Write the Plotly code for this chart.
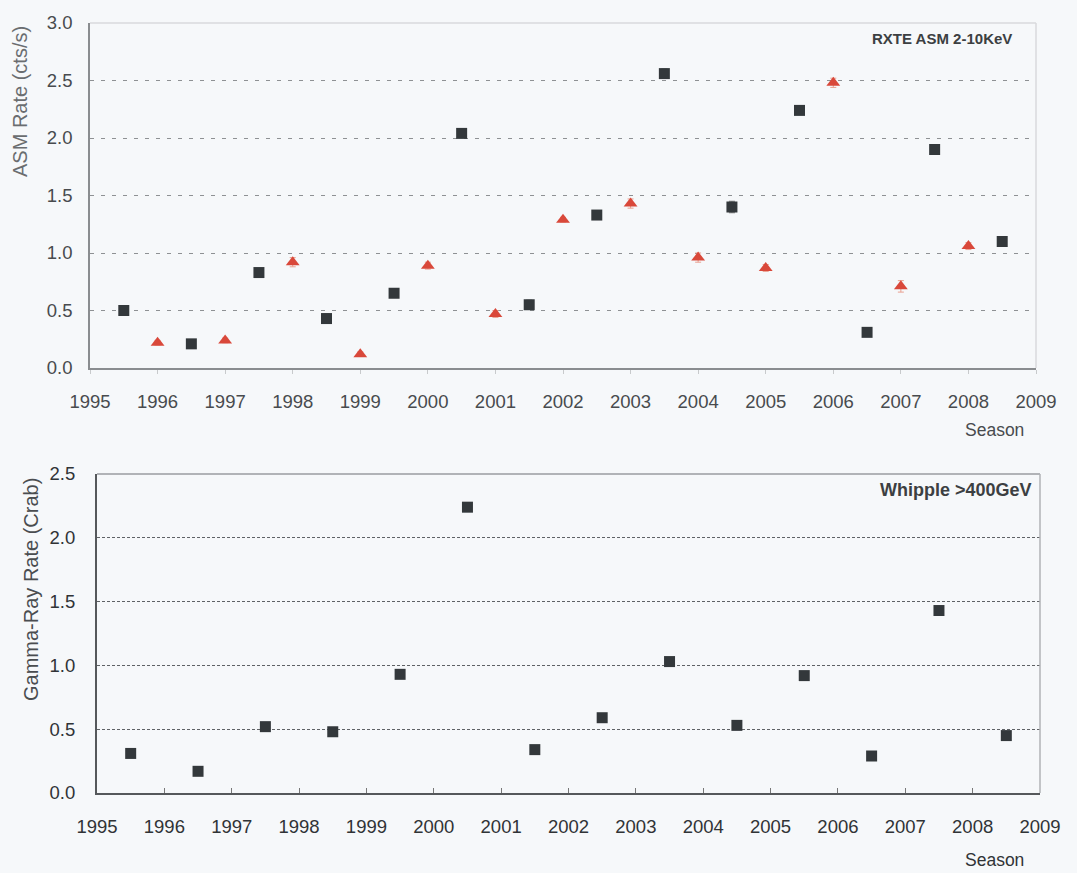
import plotly.graph_objects as go

# ---- data ----
asm_sq_season = [1995.5, 1996.5, 1997.5, 1998.5, 1999.5, 2000.5, 2001.5,
                 2002.5, 2003.5, 2004.5, 2005.5, 2006.5, 2007.5, 2008.5]
asm_sq_rate = [0.50, 0.21, 0.83, 0.43, 0.65, 2.04, 0.55,
               1.33, 2.56, 1.40, 2.24, 0.31, 1.90, 1.10]
asm_sq_err = [0.03, 0.02, 0.02, 0.04, 0.03, 0.02, 0.04,
              0.02, 0.04, 0.05, 0.03, 0.02, 0.02, 0.02]

asm_tri_season = [1996, 1997, 1998, 1999, 2000, 2001, 2002,
                  2003, 2004, 2005, 2006, 2007, 2008]
asm_tri_rate = [0.22, 0.24, 0.92, 0.12, 0.89, 0.47, 1.29,
                1.43, 0.96, 0.87, 2.48, 0.71, 1.06]
asm_tri_err = [0.02, 0.02, 0.04, 0.02, 0.03, 0.03, 0.02,
               0.04, 0.04, 0.03, 0.04, 0.05, 0.03]

whipple_season = [1995.5, 1996.5, 1997.5, 1998.5, 1999.5, 2000.5, 2001.5,
                  2002.5, 2003.5, 2004.5, 2005.5, 2006.5, 2007.5, 2008.5]
whipple_rate = [0.31, 0.17, 0.52, 0.48, 0.93, 2.24, 0.34,
                0.59, 1.03, 0.53, 0.92, 0.29, 1.43, 0.45]

year_ticks = list(range(1995, 2010))
asm_ticks = [0.0, 0.5, 1.0, 1.5, 2.0, 2.5, 3.0]
whipple_ticks = [0.0, 0.5, 1.0, 1.5, 2.0, 2.5]

W, H = 1077, 873
BG = "#f6f8fa"
FONT = "Liberation Sans"
SQ_COLOR = "#33383b"
TRI_COLOR = "#d9483a"


def px_x(v):
    return v / W


def px_y(v):
    return 1 - v / H


fig = go.Figure()

fig.add_trace(go.Scatter(
    x=asm_sq_season, y=asm_sq_rate, mode="markers",
    error_y=dict(type="data", array=asm_sq_err, color="#777", thickness=1, width=3),
    marker=dict(symbol="square", size=11, color=SQ_COLOR),
    xaxis="x", yaxis="y", showlegend=False,
))
fig.add_trace(go.Scatter(
    x=asm_tri_season, y=asm_tri_rate, mode="markers",
    error_y=dict(type="data", array=asm_tri_err, color="#e9a090", thickness=1, width=3),
    marker=dict(symbol="triangle-up", size=12, color=TRI_COLOR),
    xaxis="x", yaxis="y", showlegend=False,
))
fig.add_trace(go.Scatter(
    x=whipple_season, y=whipple_rate, mode="markers",
    marker=dict(symbol="square", size=11, color=SQ_COLOR),
    xaxis="x2", yaxis="y2", showlegend=False,
))

top_font = dict(family=FONT, size=18.5, color="#484b4e")
bot_font = dict(family=FONT, size=18.5, color="#303336")

fig.update_layout(
    template="none",
    width=W, height=H, autosize=False,
    margin=dict(l=0, r=0, t=0, b=0, pad=0),
    paper_bgcolor=BG, plot_bgcolor=BG,
    font=dict(family=FONT, color="#484b4e"),
    xaxis=dict(
        domain=[px_x(90), px_x(1036)], anchor="y", automargin=False,
        range=[1995, 2009], tickvals=year_ticks,
        tickfont=top_font, ticks="outside", ticklen=4, tickcolor="#c8cacc",
        ticklabelstandoff=12,
        showgrid=False, zeroline=False,
        showline=True, linecolor="#8a8d90", linewidth=2,
    ),
    yaxis=dict(
        domain=[px_y(368), px_y(23)], anchor="x", automargin=False,
        range=[0, 3.0], tickvals=asm_ticks, tickformat=".1f",
        tickfont=top_font, ticks="", ticklabelstandoff=12,
        showgrid=True, gridcolor="#8e9194", griddash="4px,7px", gridwidth=1,
        zeroline=False, showline=True, linecolor="#8a8d90", linewidth=1.5,
    ),
    xaxis2=dict(
        domain=[px_x(97), px_x(1040)], anchor="y2", automargin=False,
        range=[1995, 2009], tickvals=year_ticks,
        tickfont=bot_font, ticks="inside", ticklen=5, tickcolor="#777",
        ticklabelstandoff=16,
        showgrid=False, zeroline=False,
        showline=True, linecolor="#55585b", linewidth=2,
    ),
    yaxis2=dict(
        domain=[px_y(793), px_y(474)], anchor="x2", automargin=False,
        range=[0, 2.5], tickvals=whipple_ticks, tickformat=".1f",
        tickfont=bot_font, ticks="", ticklabelstandoff=16,
        showgrid=True, gridcolor="#5f6265", griddash="3px,2px", gridwidth=1,
        zeroline=False, showline=True, linecolor="#55585b", linewidth=2,
    ),
    shapes=[
        # light frame on top and right of each panel
        dict(type="line", xref="x domain", yref="y domain", x0=0, x1=1, y0=1, y1=1,
             line=dict(color="#d8dadc", width=1.5)),
        dict(type="line", xref="x domain", yref="y domain", x0=1, x1=1, y0=0, y1=1,
             line=dict(color="#d8dadc", width=1.5)),
        dict(type="line", xref="x2 domain", yref="y2 domain", x0=0, x1=1, y0=1, y1=1,
             line=dict(color="#9a9da0", width=1.5)),
        dict(type="line", xref="x2 domain", yref="y2 domain", x0=1, x1=1, y0=0, y1=1,
             line=dict(color="#b0b3b6", width=1.5)),
    ],
    annotations=[
        dict(text="RXTE ASM 2-10KeV", xref="paper", yref="paper",
             x=px_x(1014), y=px_y(28), xanchor="right", yanchor="top", showarrow=False,
             font=dict(family=FONT, size=15, color="#3c3f42", weight="bold")),
        dict(text="Whipple >400GeV", xref="paper", yref="paper",
             x=px_x(1034), y=px_y(478), xanchor="right", yanchor="top", showarrow=False,
             font=dict(family=FONT, size=18, color="#3c3f42", weight="bold")),
        dict(text="Season", xref="paper", yref="paper",
             x=px_x(1026), y=px_y(430), xanchor="right", yanchor="middle",
             showarrow=False, font=dict(family=FONT, size=17.5, color="#484b4e")),
        dict(text="Season", xref="paper", yref="paper",
             x=px_x(1026), y=px_y(860), xanchor="right", yanchor="middle",
             showarrow=False, font=dict(family=FONT, size=17.5, color="#303336")),
        dict(text="ASM Rate (cts/s)", xref="paper", yref="paper",
             x=px_x(20), y=px_y(102), xanchor="center", yanchor="middle",
             textangle=-90, showarrow=False,
             font=dict(family=FONT, size=20, color="#6a6d70")),
        dict(text="Gamma-Ray Rate (Crab)", xref="paper", yref="paper",
             x=px_x(31), y=px_y(590), xanchor="center", yanchor="middle",
             textangle=-90, showarrow=False,
             font=dict(family=FONT, size=20, color="#4a4d50")),
    ],
)

fig.write_html(
    "out.html",
    config={"responsive": False, "displayModeBar": False},
    post_script="document.body.style.margin='0';document.body.style.overflow='hidden';",
)
